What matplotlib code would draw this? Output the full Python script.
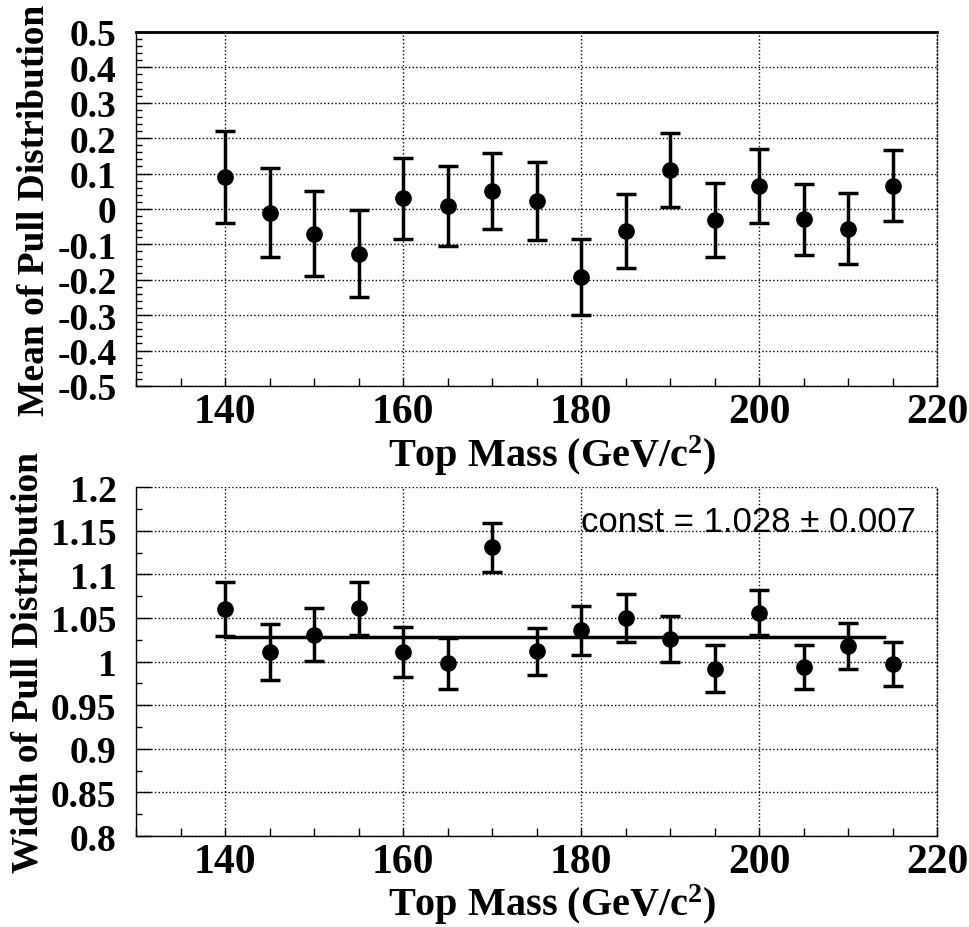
import matplotlib
matplotlib.use("Agg")
import matplotlib.pyplot as plt
from matplotlib.ticker import MultipleLocator, FixedLocator
import numpy as np

# top mass points (GeV/c^2)
mass = [140, 145, 150, 155, 160, 165, 170, 175, 180, 185, 190, 195, 200, 205, 210, 215]

# mean of pull distribution and its error
pull_mean = [0.09, -0.01, -0.07, -0.127, 0.03, 0.008, 0.051, 0.022,
             -0.193, -0.063, 0.11, -0.031, 0.064, -0.029, -0.056, 0.066]
pull_mean_err = [0.13, 0.125, 0.12, 0.123, 0.115, 0.114, 0.107, 0.11,
                 0.107, 0.105, 0.105, 0.105, 0.105, 0.10, 0.10, 0.10]

# width of pull distribution and its error
pull_width = [1.060, 1.011, 1.031, 1.061, 1.011, 0.998, 1.131, 1.012,
              1.036, 1.050, 1.026, 0.992, 1.056, 0.994, 1.018, 0.997]
pull_width_err = [0.031, 0.032, 0.030, 0.030, 0.029, 0.029, 0.028, 0.027,
                  0.028, 0.027, 0.026, 0.027, 0.026, 0.025, 0.026, 0.025]

fit_const = 1.028
fit_range = [140, 214]

mean_ticks = [0.5, 0.4, 0.3, 0.2, 0.1, 0, -0.1, -0.2, -0.3, -0.4, -0.5]
width_ticks = [1.2, 1.15, 1.1, 1.05, 1, 0.95, 0.9, 0.85, 0.8]
x_ticks = [140, 160, 180, 200, 220]

serif = "Liberation Serif"
plt.rcParams["mathtext.fontset"] = "custom"
plt.rcParams["mathtext.rm"] = "Liberation Serif:bold"
plt.rcParams["mathtext.default"] = "rm"

fig = plt.figure(figsize=(9.69, 9.28), dpi=100)
ax1 = fig.add_axes([0.1404, 0.583, 0.8266, 0.3815])
ax2 = fig.add_axes([0.1404, 0.098, 0.8266, 0.376])


def style_axis(ax, yticks, ymin, ymax, yminor, ylabel):
    ax.set_xlim(130, 220)
    ax.set_ylim(ymin, ymax)
    ax.xaxis.set_major_locator(FixedLocator(x_ticks))
    ax.xaxis.set_minor_locator(MultipleLocator(5))
    ax.yaxis.set_major_locator(FixedLocator(yticks))
    ax.yaxis.set_minor_locator(MultipleLocator(yminor))
    ax.set_xticklabels([str(t) for t in x_ticks], fontfamily=serif,
                       fontweight="bold", fontsize=30)
    ax.set_yticklabels(['%g' % t for t in yticks], fontfamily=serif,
                       fontweight="bold", fontsize=27)
    ax.tick_params(axis="both", which="both", direction="in", top=False, right=False)
    ax.tick_params(axis="y", which="major", length=11, width=1, pad=14)
    ax.tick_params(axis="y", which="minor", length=4, width=1)
    ax.tick_params(axis="x", which="major", length=6, width=1, pad=5)
    ax.tick_params(axis="x", which="minor", length=6, width=1)
    ax.grid(True, which="major", linestyle=":", color="black", linewidth=1)
    ax.set_xlabel("Top Mass (GeV/c$^{2}$)", fontfamily=serif, fontweight="bold",
                  fontsize=29, labelpad=0)
    ax.xaxis.set_label_coords(0.52, -0.13)
    ax.set_ylabel(ylabel, fontfamily=serif, fontweight="bold", fontsize=27,
                  labelpad=4)
    for s in ax.spines.values():
        s.set_linewidth(1)
    ax.spines["right"].set_linestyle(":")


style_axis(ax1, mean_ticks, -0.5, 0.5, 0.02, "Mean of Pull Distribution")
style_axis(ax2, width_ticks, 0.8, 1.2, 0.025, "Width of Pull Distribution")
ax1.spines["top"].set_linewidth(2)
ax2.spines["top"].set_visible(False)

ax1.errorbar(mass, pull_mean, yerr=pull_mean_err, fmt="o", color="black",
             markersize=11, elinewidth=2.5, capsize=7, capthick=2.5, zorder=5)

ax2.errorbar(mass, pull_width, yerr=pull_width_err, fmt="o", color="black",
             markersize=11, elinewidth=2.5, capsize=7, capthick=2.5, zorder=5)
ax2.plot(fit_range, [fit_const, fit_const], color="black", linewidth=2.5, zorder=4)
ax2.text(180, 1.15, "const = 1.028 \u00b1 0.007", fontfamily="Liberation Sans",
         fontsize=25, ha="left", va="baseline", zorder=6)

fig.savefig("out.png", dpi=100)
